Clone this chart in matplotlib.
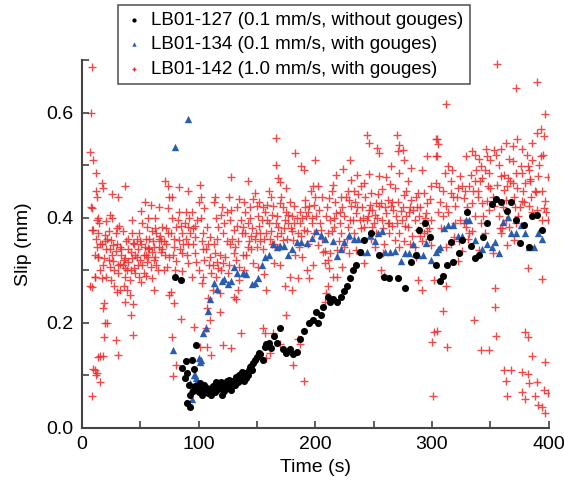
import matplotlib
matplotlib.use('Agg')
import matplotlib.pyplot as plt
from matplotlib.ticker import MultipleLocator

plt.rcParams['font.family'] = ['Liberation Sans', 'DejaVu Sans']

# (time s, slip mm)
# LB01-127 (0.1 mm/s, without gouges)
pts_127 = [
    (80, 0.288), (85, 0.282), (86, 0.114), (89, 0.128), (90, 0.105), (94, 0.13), (96, 0.113),
    (98, 0.158), (93, 0.063), (90, 0.048), (93, 0.04), (99, 0.076), (102, 0.07), (106, 0.072),
    (111, 0.063), (115, 0.088), (120, 0.063), (124, 0.09), (128, 0.072), (132, 0.097),
    (137, 0.107), (141, 0.095), (144, 0.116), (148, 0.13), (152, 0.143), (157, 0.155),
    (160, 0.162), (167, 0.162), (101, 0.085), (104, 0.078), (108, 0.066), (113, 0.075),
    (118, 0.082), (122, 0.07), (126, 0.092), (130, 0.085), (135, 0.1), (139, 0.09),
    (146, 0.11), (155, 0.13), (158, 0.16), (170, 0.19), (175, 0.143), (178, 0.15),
    (181, 0.14), (184, 0.145), (187, 0.17), (195, 0.2), (201, 0.22), (202, 0.2),
    (207, 0.23), (211, 0.25), (215, 0.245), (219, 0.24), (225, 0.26), (230, 0.285),
    (235, 0.31), (238, 0.335), (242, 0.358), (248, 0.37), (255, 0.33), (259, 0.288),
    (263, 0.285), (271, 0.285), (277, 0.267), (282, 0.315), (286, 0.33), (289, 0.377),
    (294, 0.39), (298, 0.364), (303, 0.31), (307, 0.28), (309, 0.29), (313, 0.31),
    (316, 0.354), (318, 0.315), (323, 0.333), (326, 0.358), (330, 0.41), (333, 0.347),
    (337, 0.324), (340, 0.33), (344, 0.364), (347, 0.39), (351, 0.427), (355, 0.436),
    (359, 0.43), (364, 0.413), (368, 0.43), (372, 0.396), (375, 0.352), (379, 0.387),
    (383, 0.345), (386, 0.404), (390, 0.405), (394, 0.377),
    (97, 0.08), (100, 0.068), (103, 0.062), (105, 0.082), (107, 0.076), (109, 0.07),
    (112, 0.08), (114, 0.068), (117, 0.074), (119, 0.088), (121, 0.078), (123, 0.084),
    (125, 0.076), (127, 0.084), (129, 0.09), (131, 0.082), (133, 0.094), (134, 0.088),
    (136, 0.092), (138, 0.1), (140, 0.104), (142, 0.1), (143, 0.11), (145, 0.118),
    (147, 0.124), (150, 0.135), (153, 0.14), (162, 0.152), (165, 0.175), (172, 0.15),
    (190, 0.185), (198, 0.205), (205, 0.215), (213, 0.24), (222, 0.25), (227, 0.27),
    (232, 0.3), (88, 0.095), (92, 0.082), (95, 0.07),
]

# LB01-134 (0.1 mm/s, with gouges)
pts_134 = [
    (80, 0.535), (91, 0.588), (78, 0.149), (100, 0.133), (93, 0.086), (96, 0.1), (99, 0.09),
    (94, 0.077), (102, 0.13), (101, 0.125), (97, 0.1), (98, 0.095), (94, 0.055),
    (104, 0.18), (106, 0.19), (108, 0.223), (110, 0.246), (113, 0.276), (116, 0.265),
    (120, 0.28), (122, 0.283), (125, 0.274), (128, 0.28), (130, 0.307), (133, 0.295),
    (138, 0.295), (141, 0.292), (146, 0.274), (148, 0.276), (151, 0.285), (154, 0.31),
    (157, 0.326), (160, 0.33), (164, 0.35), (167, 0.345), (170, 0.346), (173, 0.346),
    (177, 0.33), (180, 0.34), (184, 0.354), (188, 0.354), (193, 0.352), (197, 0.362),
    (201, 0.375), (205, 0.368), (208, 0.36), (215, 0.356), (219, 0.327), (222, 0.34),
    (225, 0.354), (229, 0.368), (233, 0.36), (237, 0.36), (240, 0.335), (244, 0.335),
    (247, 0.368), (251, 0.355), (254, 0.37), (257, 0.375), (260, 0.335), (264, 0.335),
    (268, 0.337), (273, 0.318), (277, 0.333), (280, 0.333), (284, 0.35), (288, 0.33),
    (292, 0.33), (295, 0.352), (299, 0.32), (303, 0.335), (305, 0.34), (307, 0.345),
    (310, 0.38), (314, 0.387), (318, 0.387), (322, 0.366), (326, 0.366), (329, 0.395),
    (332, 0.395), (337, 0.358), (340, 0.333), (343, 0.34), (347, 0.35), (351, 0.345),
    (354, 0.354), (357, 0.333), (361, 0.392), (365, 0.402), (368, 0.37), (372, 0.37),
    (376, 0.387), (380, 0.371), (383, 0.345), (387, 0.345), (391, 0.371), (394, 0.36),
]

# LB01-142 (1.0 mm/s, with gouges), first 100 s
pts_142_a = [
    (9, 0.686), (8, 0.6), (7, 0.525), (10, 0.51), (12, 0.486), (12, 0.45), (8, 0.42),
    (13, 0.395), (9, 0.377), (12, 0.36), (14, 0.326), (11, 0.288), (7, 0.27), (14, 0.135),
    (10, 0.112), (12, 0.1), (9, 0.06), (17, 0.466), (18, 0.456), (13, 0.44), (26, 0.446),
    (31, 0.44), (37, 0.46), (9, 0.418), (14, 0.4), (21, 0.393), (24, 0.406), (10, 0.377),
    (14, 0.37), (17, 0.35), (20, 0.368), (25, 0.358), (29, 0.37), (34, 0.34), (14, 0.326),
    (19, 0.323), (23, 0.32), (27, 0.318), (31, 0.31), (37, 0.304), (40, 0.315), (43, 0.323),
    (46, 0.33), (44, 0.352), (43, 0.37), (49, 0.37), (51, 0.412), (54, 0.43), (59, 0.425),
    (56, 0.383), (60, 0.374), (63, 0.4), (66, 0.42), (69, 0.383), (71, 0.47), (74, 0.46),
    (75, 0.44), (70, 0.355), (66, 0.345), (63, 0.326), (59, 0.307), (56, 0.315),
    (53, 0.295), (49, 0.288), (51, 0.277), (46, 0.295), (41, 0.282), (37, 0.288),
    (36, 0.27), (39, 0.263), (41, 0.253), (37, 0.24), (44, 0.235), (42, 0.215), (44, 0.177),
    (19, 0.237), (18, 0.228), (20, 0.2), (22, 0.2), (19, 0.174), (29, 0.168), (31, 0.139),
    (16, 0.136), (18, 0.136), (11, 0.11), (13, 0.105), (16, 0.088), (11, 0.288),
    (9, 0.268), (17, 0.285), (21, 0.288), (25, 0.282), (28, 0.27), (33, 0.263), (30, 0.258),
    (77, 0.174), (78, 0.098), (81, 0.12), (85, 0.207), (96, 0.193), (79, 0.237), (75, 0.253),
    (76, 0.258), (62, 0.263), (60, 0.285), (75, 0.326), (79, 0.345), (83, 0.358),
    (86, 0.37), (81, 0.383), (77, 0.4), (74, 0.418), (83, 0.41), (89, 0.41), (91, 0.383),
    (94, 0.41), (99, 0.396), (97, 0.364), (91, 0.35), (86, 0.333), (81, 0.317), (91, 0.314),
    (97, 0.333), (100, 0.3), (94, 0.288), (86, 0.298), (91, 0.45), (83, 0.458), (77, 0.44),
    (101, 0.155), (64, 0.37), (69, 0.34), (73, 0.307), (57, 0.342), (53, 0.33), (50, 0.32),
    (55, 0.36), (37, 0.323), (34, 0.33), (29, 0.336), (24, 0.307), (21, 0.34), (16, 0.35),
    (11, 0.33), (26, 0.4), (45, 0.35), (52, 0.39), (62, 0.345), (68, 0.335), (33, 0.312),
    (27, 0.348), (47, 0.36), (58, 0.36), (35, 0.375), (22, 0.36), (48, 0.31), (65, 0.3),
    (31, 0.295), (54, 0.345), (40, 0.34), (72, 0.38), (88, 0.39), (95, 0.35),
    (15, 0.39), (23, 0.375), (30, 0.35), (38, 0.355), (42, 0.3), (48, 0.34), (52, 0.31),
    (57, 0.325), (61, 0.355), (67, 0.365), (71, 0.33), (78, 0.33), (84, 0.34), (89, 0.36),
    (93, 0.37), (98, 0.315), (26, 0.33), (35, 0.31), (45, 0.305), (55, 0.29), (64, 0.31),
    (70, 0.3), (80, 0.3), (90, 0.33), (18, 0.31), (20, 0.355), (32, 0.385), (40, 0.36),
    (50, 0.355), (60, 0.335), (68, 0.355), (76, 0.37), (85, 0.385), (95, 0.38),
    (13, 0.345), (16, 0.3), (24, 0.34), (28, 0.3), (33, 0.345), (36, 0.32), (39, 0.3),
    (42, 0.335), (47, 0.325), (51, 0.35), (55, 0.33), (58, 0.34), (62, 0.32), (66, 0.36),
    (72, 0.35), (74, 0.37), (79, 0.36), (82, 0.395), (87, 0.35), (92, 0.4), (97, 0.385),
    (63, 0.38), (57, 0.4), (43, 0.395), (30, 0.38),
]

# LB01-142, 100-200 s
pts_142_b = [
    (101, 0.463), (102, 0.44), (100, 0.43), (105, 0.418), (102, 0.4), (107, 0.383),
    (104, 0.37), (110, 0.364), (108, 0.35), (104, 0.34), (105, 0.32), (110, 0.326),
    (114, 0.333), (112, 0.31), (117, 0.304), (111, 0.295), (115, 0.288), (112, 0.263),
    (118, 0.256), (104, 0.288), (103, 0.275), (108, 0.247), (107, 0.228), (110, 0.206),
    (106, 0.19), (107, 0.155), (111, 0.139), (121, 0.158), (128, 0.152), (114, 0.44),
    (113, 0.43), (115, 0.4), (117, 0.383), (121, 0.37), (124, 0.41), (128, 0.415),
    (128, 0.478), (120, 0.42), (124, 0.355), (127, 0.35), (130, 0.377), (131, 0.345),
    (134, 0.355), (137, 0.37), (138, 0.383), (142, 0.39), (142, 0.47), (144, 0.42),
    (148, 0.447), (147, 0.435), (150, 0.422), (151, 0.403), (154, 0.395), (157, 0.41),
    (160, 0.45), (162, 0.44), (164, 0.422), (167, 0.403), (170, 0.428), (172, 0.42),
    (175, 0.41), (180, 0.403), (182, 0.422), (187, 0.41), (191, 0.434), (195, 0.422),
    (200, 0.44), (166, 0.552), (166, 0.5), (168, 0.475), (170, 0.468), (175, 0.456),
    (183, 0.523), (188, 0.498), (190, 0.49), (200, 0.51), (198, 0.46), (130, 0.333),
    (132, 0.32), (135, 0.307), (138, 0.33), (135, 0.282), (134, 0.263), (130, 0.25),
    (132, 0.245), (125, 0.295), (121, 0.314), (147, 0.314), (151, 0.307), (145, 0.34),
    (142, 0.345), (150, 0.345), (155, 0.34), (153, 0.355), (158, 0.37), (161, 0.36),
    (163, 0.35), (168, 0.383), (171, 0.37), (172, 0.358), (177, 0.39), (179, 0.38),
    (181, 0.358), (185, 0.37), (187, 0.39), (190, 0.377), (192, 0.403), (197, 0.39),
    (201, 0.403), (199, 0.37), (165, 0.314), (158, 0.263), (178, 0.288), (180, 0.263),
    (185, 0.285), (195, 0.285), (193, 0.3), (198, 0.31), (175, 0.215), (155, 0.19),
    (157, 0.18), (164, 0.18), (158, 0.133), (170, 0.16), (181, 0.12), (190, 0.09),
    (187, 0.16), (185, 0.17), (111, 0.066), (161, 0.142), (118, 0.22), (136, 0.18),
    (156, 0.292), (174, 0.27), (189, 0.325), (116, 0.36), (122, 0.39), (140, 0.41),
    (145, 0.365), (126, 0.44), (133, 0.42), (152, 0.43), (160, 0.39), (165, 0.35),
    (176, 0.36), (183, 0.33), (194, 0.35), (139, 0.3), (170, 0.31), (196, 0.45),
    (106, 0.34), (109, 0.31), (113, 0.35), (118, 0.33), (123, 0.325), (126, 0.31),
    (129, 0.36), (133, 0.385), (136, 0.395), (140, 0.37), (143, 0.355), (146, 0.38),
    (149, 0.37), (152, 0.385), (156, 0.36), (159, 0.395), (162, 0.375), (166, 0.39),
    (169, 0.345), (173, 0.38), (177, 0.405), (182, 0.39), (186, 0.345), (189, 0.4),
    (193, 0.375), (197, 0.4), (119, 0.405), (127, 0.395), (135, 0.435), (155, 0.42),
    (178, 0.43), (191, 0.42),
    (103, 0.355), (116, 0.315), (119, 0.3), (141, 0.33), (144, 0.4), (148, 0.36),
    (153, 0.37), (163, 0.405), (167, 0.365), (174, 0.395), (180, 0.375), (184, 0.4),
    (188, 0.365), (194, 0.41), (199, 0.425), (171, 0.44), (159, 0.425), (139, 0.43),
]

# LB01-142, 200-300 s
pts_142_c = [
    (244, 0.558), (246, 0.543), (270, 0.558), (272, 0.539), (271, 0.526), (275, 0.528),
    (253, 0.533), (255, 0.523), (296, 0.517), (276, 0.509), (265, 0.499), (230, 0.51),
    (224, 0.493), (218, 0.482), (215, 0.463), (231, 0.472), (236, 0.482), (246, 0.484),
    (255, 0.479), (261, 0.477), (272, 0.485), (282, 0.495), (291, 0.491), (299, 0.46),
    (202, 0.46), (206, 0.44), (212, 0.437), (222, 0.439), (229, 0.434), (239, 0.46),
    (242, 0.466), (248, 0.447), (252, 0.428), (256, 0.428), (262, 0.434), (268, 0.456),
    (276, 0.444), (282, 0.434), (288, 0.447), (293, 0.447), (296, 0.428), (203, 0.415),
    (209, 0.403), (213, 0.396), (218, 0.409), (221, 0.39), (225, 0.403), (231, 0.422),
    (235, 0.409), (238, 0.396), (245, 0.403), (249, 0.415), (255, 0.422), (261, 0.409),
    (265, 0.422), (269, 0.403), (273, 0.412), (278, 0.403), (285, 0.396), (289, 0.403),
    (295, 0.409), (299, 0.396), (205, 0.377), (211, 0.37), (216, 0.383), (222, 0.37),
    (228, 0.383), (233, 0.37), (242, 0.383), (249, 0.383), (258, 0.38), (263, 0.37),
    (272, 0.37), (279, 0.383), (288, 0.377), (293, 0.37), (202, 0.349), (208, 0.336),
    (211, 0.32), (213, 0.333), (219, 0.339), (225, 0.345), (229, 0.333), (235, 0.339),
    (242, 0.314), (251, 0.345), (258, 0.333), (268, 0.358), (272, 0.345), (276, 0.355),
    (285, 0.345), (291, 0.355), (299, 0.349), (208, 0.314), (212, 0.304), (215, 0.288),
    (211, 0.27), (209, 0.256), (208, 0.24), (219, 0.288), (223, 0.307), (256, 0.3),
    (259, 0.29), (288, 0.282), (291, 0.263), (227, 0.36), (250, 0.39), (266, 0.43),
    (283, 0.365), (214, 0.45), (240, 0.42), (262, 0.39), (281, 0.35), (297, 0.36),
    (207, 0.335), (234, 0.43), (244, 0.395), (259, 0.35), (286, 0.325), (226, 0.44),
    (217, 0.43), (237, 0.445), (247, 0.425), (264, 0.465), (279, 0.47), (290, 0.42),
    (253, 0.4), (270, 0.39), (284, 0.415), (298, 0.435), (220, 0.355), (232, 0.395),
    (257, 0.455), (275, 0.42), (292, 0.39),
    (204, 0.39), (210, 0.42), (216, 0.4), (223, 0.42), (230, 0.395), (236, 0.42),
    (241, 0.4), (246, 0.415), (251, 0.405), (257, 0.395), (263, 0.39), (267, 0.415),
    (271, 0.43), (277, 0.385), (280, 0.41), (287, 0.42), (294, 0.4), (297, 0.38),
    (206, 0.36), (214, 0.375), (221, 0.41), (228, 0.45), (239, 0.38), (243, 0.44),
    (254, 0.445), (260, 0.42), (266, 0.385), (274, 0.395), (281, 0.42), (286, 0.44),
    (290, 0.365), (296, 0.375), (252, 0.37), (233, 0.45), (278, 0.45), (248, 0.36),
]

# LB01-142, 300-400 s
pts_142_d = [
    (356, 0.693), (372, 0.647), (390, 0.658), (312, 0.616), (397, 0.597), (304, 0.549),
    (305, 0.54), (304, 0.517), (303, 0.549), (303, 0.517), (302, 0.282), (300, 0.164),
    (301, 0.06), (302, 0.183), (363, 0.543), (369, 0.536), (373, 0.549), (377, 0.531),
    (386, 0.543), (390, 0.561), (393, 0.568), (396, 0.555), (334, 0.526), (337, 0.52),
    (329, 0.517), (340, 0.511), (346, 0.531), (347, 0.517), (353, 0.528), (355, 0.52),
    (350, 0.51), (366, 0.512), (369, 0.507), (376, 0.498), (382, 0.498), (386, 0.51),
    (393, 0.517), (314, 0.498), (317, 0.491), (311, 0.485), (342, 0.498), (345, 0.49),
    (349, 0.485), (359, 0.479), (362, 0.482), (365, 0.475), (372, 0.485), (377, 0.485),
    (383, 0.491), (384, 0.474), (399, 0.478), (324, 0.479), (333, 0.482), (337, 0.469),
    (343, 0.475), (350, 0.456), (356, 0.463), (362, 0.453), (369, 0.466), (373, 0.456),
    (380, 0.466), (389, 0.448), (394, 0.45), (303, 0.466), (306, 0.458), (309, 0.45),
    (316, 0.469), (316, 0.447), (322, 0.456), (332, 0.46), (339, 0.45), (347, 0.431),
    (370, 0.44), (363, 0.434), (377, 0.431), (383, 0.422), (397, 0.431), (396, 0.418),
    (399, 0.396), (312, 0.422), (320, 0.422), (327, 0.437), (334, 0.428), (343, 0.428),
    (309, 0.403), (320, 0.39), (324, 0.396), (329, 0.383), (332, 0.371), (337, 0.403),
    (342, 0.39), (344, 0.403), (349, 0.415), (353, 0.422), (357, 0.403), (363, 0.396),
    (366, 0.383), (372, 0.39), (374, 0.403), (386, 0.41), (390, 0.415), (394, 0.396),
    (319, 0.364), (323, 0.355), (334, 0.374), (340, 0.339), (352, 0.333), (359, 0.371),
    (364, 0.349), (370, 0.358), (312, 0.345), (326, 0.336), (322, 0.317), (382, 0.304),
    (394, 0.283), (312, 0.27), (354, 0.266), (354, 0.231), (309, 0.222), (336, 0.206),
    (304, 0.184), (313, 0.155), (355, 0.175), (380, 0.183), (382, 0.173), (342, 0.149),
    (349, 0.149), (386, 0.137), (397, 0.126), (362, 0.11), (368, 0.11), (377, 0.106),
    (382, 0.102), (363, 0.09), (383, 0.085), (390, 0.088), (396, 0.072), (399, 0.066),
    (377, 0.069), (364, 0.061), (380, 0.055), (388, 0.06), (391, 0.044), (394, 0.04),
    (397, 0.028), (318, 0.44), (331, 0.36), (348, 0.46), (360, 0.38), (367, 0.47),
    (379, 0.43), (392, 0.5), (305, 0.41), (316, 0.35), (327, 0.39), (339, 0.44),
    (358, 0.38), (375, 0.42), (388, 0.45), (308, 0.38), (326, 0.46), (345, 0.37),
    (361, 0.42), (384, 0.47), (398, 0.41),
    (314, 0.41), (321, 0.44), (330, 0.42), (335, 0.45), (341, 0.47), (352, 0.44),
    (357, 0.5), (364, 0.46), (371, 0.42), (378, 0.45), (385, 0.44), (391, 0.48),
    (395, 0.52), (381, 0.52), (359, 0.53), (338, 0.49), (328, 0.45), (307, 0.43),
]
pts_142 = pts_142_a + pts_142_b + pts_142_c + pts_142_d

fig = plt.figure(figsize=(5.64, 4.88), dpi=100)
ax = fig.add_axes([0.145, 0.123, 0.828, 0.754])

t, s = zip(*pts_127)
ax.scatter(t, s, s=26, c='black', marker='o', linewidths=0, zorder=3,
           label='LB01-127 (0.1 mm/s, without gouges)')
t, s = zip(*pts_134)
ax.scatter(t, s, s=28, c='#2a5db0', marker='^', linewidths=0, zorder=2,
           label='LB01-134 (0.1 mm/s, with gouges)')
t, s = zip(*pts_142)
ax.scatter(t, s, s=28, c='#ec2a2a', marker='+', linewidths=1.0, alpha=0.85,
           zorder=1, label='LB01-142 (1.0 mm/s, with gouges)')

ax.set_xlim(0, 400)
ax.set_ylim(0, 0.7)
ax.xaxis.set_major_locator(MultipleLocator(100))
ax.xaxis.set_minor_locator(MultipleLocator(50))
ax.yaxis.set_major_locator(MultipleLocator(0.2))
ax.yaxis.set_minor_locator(MultipleLocator(0.1))
ax.yaxis.set_major_formatter(plt.FuncFormatter(lambda v, p: f'{v:.1f}'))
ax.tick_params(which='both', direction='in', length=5, width=1.2, colors='#444444',
               labelsize=14, labelcolor='black')
ax.tick_params(which='major', pad=6)

for side in ['top', 'right']:
    ax.spines[side].set_visible(False)
for side in ['left', 'bottom']:
    ax.spines[side].set_linewidth(1.5)
    ax.spines[side].set_color('#444444')

ax.set_xlabel('Time (s)', fontsize=14, labelpad=4)
ax.set_ylabel('Slip (mm)', fontsize=14, labelpad=10)

leg = fig.legend(loc='upper left', bbox_to_anchor=(0.209, 0.99), fontsize=13.5,
                 frameon=True, fancybox=False, edgecolor='#333333', markerscale=0.6,
                 handletextpad=0.4, borderpad=0.35, labelspacing=0.4, handlelength=1.0,
                 borderaxespad=0)
leg.get_frame().set_linewidth(1.2)
for h in leg.legend_handles:
    h.set_alpha(1)

fig.savefig('out.png', dpi=100)
